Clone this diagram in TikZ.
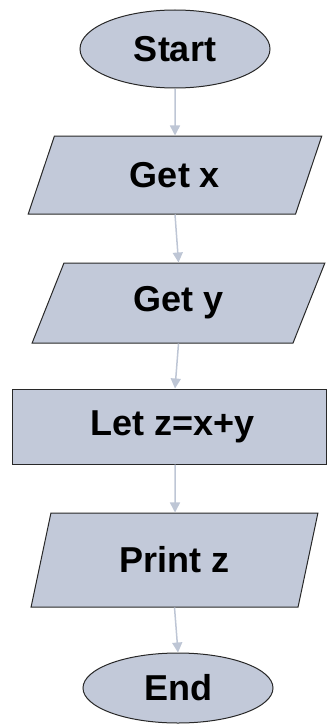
\documentclass[tikz,border=0pt]{standalone}
\usepackage{fontspec}
\setmainfont{Liberation Sans}
\usetikzlibrary{shapes.geometric,arrows.meta}
\definecolor{boxfill}{RGB}{194,201,217}
\definecolor{boxline}{RGB}{40,40,40}
\definecolor{arrowcol}{RGB}{190,198,213}
\tikzset{
  base/.style={draw=boxline, fill=boxfill, line width=1pt, inner sep=0pt,
    font=\fontsize{36}{40}\selectfont\bfseries},
  term/.style={base, ellipse},
  io/.style={base, trapezium, trapezium stretches=true,
    trapezium left angle=#1, trapezium right angle={180-#1}},
  proc/.style={base, rectangle},
  flow/.style={draw=arrowcol, line width=1.5pt, -{Triangle[length=10pt,width=10pt]}}
}
\begin{document}
\begin{tikzpicture}[x=1pt,y=-1pt]
\useasboundingbox (0,0) rectangle (327,725);
\node[term, minimum width=190pt, minimum height=78pt] (start) at (175,49) {Start};
\node[io=69, minimum width=294pt, minimum height=78pt] (getx) at (175,175) {Get x};
\node[io=69, minimum width=293pt, minimum height=80pt] (gety) at (178.5,303) {Get y};
\node[proc, minimum width=314pt, minimum height=75pt] (let) at (169,426.5) {\hspace{8pt}Let z=x+y};
\node[io=71.5, minimum width=287pt, minimum height=94pt] (print) at (174.5,560) {Print z};
\node[term, minimum width=190pt, minimum height=70pt] (end) at (178,688) {End};
\draw[flow] (start.south) -- (getx.north);
\draw[flow] (getx.south) -- (gety.north);
\draw[flow] (gety.south) -- ([xshift=6pt]let.north);
\draw[flow] ([xshift=6pt]let.south) -- ([xshift=0.5pt]print.north);
\draw[flow] (print.south) -- (end.north);
\end{tikzpicture}
\end{document}
